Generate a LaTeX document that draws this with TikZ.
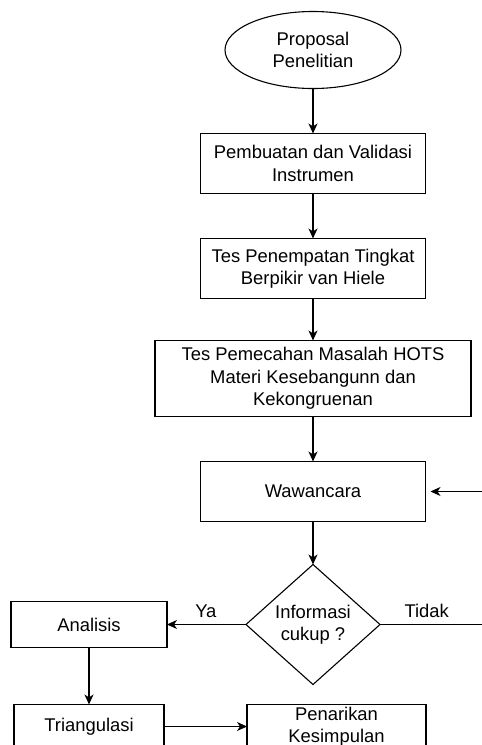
\documentclass[tikz,border=0pt]{standalone}
\usepackage{fontspec}
\setmainfont{Liberation Sans}
\usetikzlibrary{positioning, arrows.meta, shapes}

\newcommand{\flowfont}{\fontsize{18.4}{22.5}\selectfont}

\begin{document}
\begin{tikzpicture}[
	x=1pt, y=-1pt,
	terminal/.style={ellipse, draw, inner sep=0pt, outer sep=0pt, minimum width=176pt, minimum height=77pt, align=center, font=\flowfont},
	process/.style={rectangle, draw, inner sep=0pt, outer sep=0pt, minimum width=225pt, minimum height=60pt, align=center, font=\flowfont},
	decision/.style={diamond, draw, inner sep=0pt, outer sep=0pt, aspect=1.12, minimum width=134pt, minimum height=120pt, align=center, font=\flowfont},
	label/.style={inner sep=3pt, font=\flowfont},
	line width=1.1pt,
	>={Stealth[length=10pt, width=9pt, inset=3pt]}
]

\useasboundingbox (0,0) rectangle (482,745);
\clip (0,0) rectangle (482,745);

\node[terminal] (proposal) at (313,50) {Proposal\\Penelitian};
\node[process, below=45pt of proposal] (instrumen) {Pembuatan dan Validasi\\Instrumen};
\node[process, below=45pt of instrumen] (penempatan) {Tes Penempatan Tingkat\\Berpikir van Hiele};
\node[process, minimum width=316pt, minimum height=76pt, below=42pt of penempatan] (pemecahan) {Tes Pemecahan Masalah HOTS\\Materi Kesebangunn dan\\Kekongruenan};
\node[process, below=45pt of pemecahan] (wawancara) {Wawancara};
\node[decision, below=43pt of wawancara] (cukup) {Informasi\\cukup ?};

\node[process, minimum width=156pt, minimum height=46pt, left=79pt of cukup] (analisis) {Analisis};
\node[process, minimum width=150pt, minimum height=44pt, below=57pt of analisis] (triangulasi) {Triangulasi};
\node[process, minimum width=179pt, minimum height=44pt, right=83pt of triangulasi] (penarikan) {Penarikan\\Kesimpulan};

\node[label, above left=3pt and 26pt of cukup.west] (ya) {Ya};
\node[label, above right=3pt and 21pt of cukup.east] (tidak) {Tidak};

\draw[->] (proposal) -- (instrumen);
\draw[->] (instrumen) -- (penempatan);
\draw[->] (penempatan) -- (pemecahan);
\draw[->] (pemecahan) -- (wawancara);
\draw[->] (wawancara) -- (cukup);
\draw[->] (cukup) -- (analisis);
\draw[->, shorten >=5pt] (cukup.east) -- ++(120,0) |- (wawancara.east);
\draw[->] (analisis) -- (triangulasi);
\draw[->] (triangulasi) -- (penarikan);

\end{tikzpicture}
\end{document}
